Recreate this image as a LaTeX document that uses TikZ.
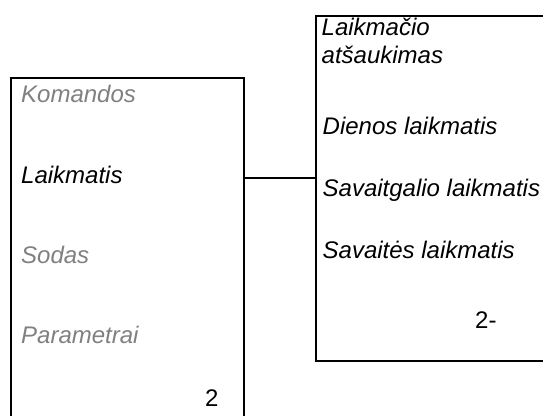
\documentclass[tikz,border=0pt]{standalone}
\usepackage{fontspec}
\setmainfont{Liberation Sans}
\definecolor{greytext}{RGB}{128,128,128}
\begin{document}
\begin{tikzpicture}[x=1pt,y=-1pt,
  box/.style={draw=black,line width=2.2pt,anchor=north west,inner sep=0pt},
  item/.style={anchor=base west,inner sep=0pt,font=\fontsize{24}{28}\selectfont\itshape},
  dim/.style={item,text=greytext},
  num/.style={anchor=base west,inner sep=0pt,font=\fontsize{24}{28}\selectfont},
  link/.style={draw=black,line width=1.8pt}]
\clip (0,0) rectangle (543,415);
\node[box,minimum width=233pt,minimum height=360pt] (L) at (10,77) {};
\node[box,minimum width=250pt,minimum height=345pt] (R) at (315,15) {};
\node[dim] (t1) at (21,102) {Komandos};
\node[item] (t2) at (21,183) {Laikmatis};
\node[dim] (t3) at (21,263) {Sodas};
\node[dim] (t4) at (21,343) {Parametrai};
\node[num] (t5) at (205,406) {2};
\node[item] (r1) at (321.5,35) {Laikmačio};
\node[item] (r2) at (321.5,63) {atšaukimas};
\node[item] (r3) at (322.5,134) {Dienos laikmatis};
\node[item] (r4) at (322.5,196) {Savaitgalio laikmatis};
\node[item] (r5) at (322.5,258) {Savaitės laikmatis};
\node[num] (r6) at (475,328) {2-};
\coordinate (c1) at (243,178);
\draw[link] (c1) -- (c1 -| R.west);
\end{tikzpicture}
\end{document}
